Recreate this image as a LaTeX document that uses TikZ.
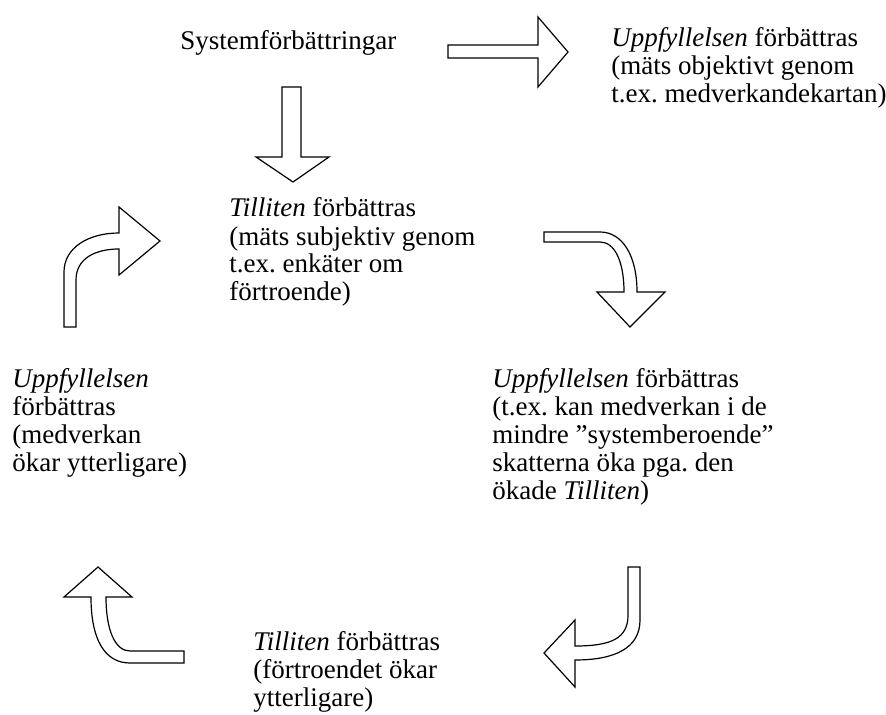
\documentclass[tikz,border=0pt]{standalone}
\usepackage{fontspec}
\setmainfont{Liberation Serif}
\frenchspacing
\begin{document}
\begin{tikzpicture}[x=0.5pt,y=-0.5pt,
  blockarrow/.style={draw=black,fill=white,line width=0.6pt,line join=miter},
  label/.style={anchor=base west,inner sep=0pt,align=left,
    font={\fontsize{13.5pt}{14pt}\selectfont\lineskiplimit=-20pt\relax}}]
\useasboundingbox (0,0) rectangle (886,715);

% text blocks, each placed by the baseline of its last line
\node[label] (sys) at (180,50) {Systemförbättringar};
\node[label] (upp1) at (611,103) {\textit{Uppfyllelsen} förbättras\\(mäts objektivt genom\\t.ex. medverkandekartan)};
\node[label] (till1) at (229,301) {\textit{Tilliten} förbättras\\(mäts subjektiv genom\\t.ex. enkäter om\\förtroende)};
\node[label] (upp2) at (492,499) {\textit{Uppfyllelsen} förbättras\\(t.ex. kan medverkan i de\\mindre ”systemberoende”\\skatterna öka pga. den\\ökade \textit{Tilliten})};
\node[label] (till2) at (253,706) {\textit{Tilliten} förbättras\\(förtroendet ökar\\ytterligare)};
\node[label] (upp3) at (12,471) {\textit{Uppfyllelsen}\\förbättras\\(medverkan\\ökar ytterligare)};

% straight block arrow to the right
\draw[blockarrow] (448,45) -- (538,45) -- (538,17) -- (568,52) -- (538,87)
  -- (538,58) -- (448,58) -- cycle;

% straight block arrow downwards
\draw[blockarrow] (282,87) -- (301,87) -- (301,157) -- (329,157) -- (293,182)
  -- (256,157) -- (282,157) -- cycle;

% bent arrow: right, then down
\draw[blockarrow] (544,232) -- (600,232) .. controls (622,232) and (637,255) .. (637,292)
  -- (665,292) -- (630,327) -- (597,292) -- (624,292)
  .. controls (624,262) and (615,242) .. (600,242) -- (544,242) -- cycle;

% bent arrow: down, then left
\draw[blockarrow] (628,567) -- (640,567) -- (640,620)
  .. controls (640,648) and (615,660) .. (575,660)
  -- (575,687) -- (544,653) -- (575,620) -- (575,646)
  .. controls (612,646) and (628,638) .. (628,615) -- cycle;

% bent arrow: left, then up
\draw[blockarrow] (184,651) -- (184,663) -- (130,663)
  .. controls (105,663) and (91,640) .. (91,597)
  -- (64,597) -- (98,567) -- (132,597) -- (106,597)
  .. controls (106,630) and (115,651) .. (130,651) -- cycle;

% bent arrow: up, then right
\draw[blockarrow] (64,327) -- (64,272) .. controls (64,248) and (88,233) .. (119,233)
  -- (119,207) -- (160,241) -- (119,275) -- (119,249)
  .. controls (96,249) and (76,258) .. (76,280) -- (76,327) -- cycle;
\end{tikzpicture}
\end{document}
